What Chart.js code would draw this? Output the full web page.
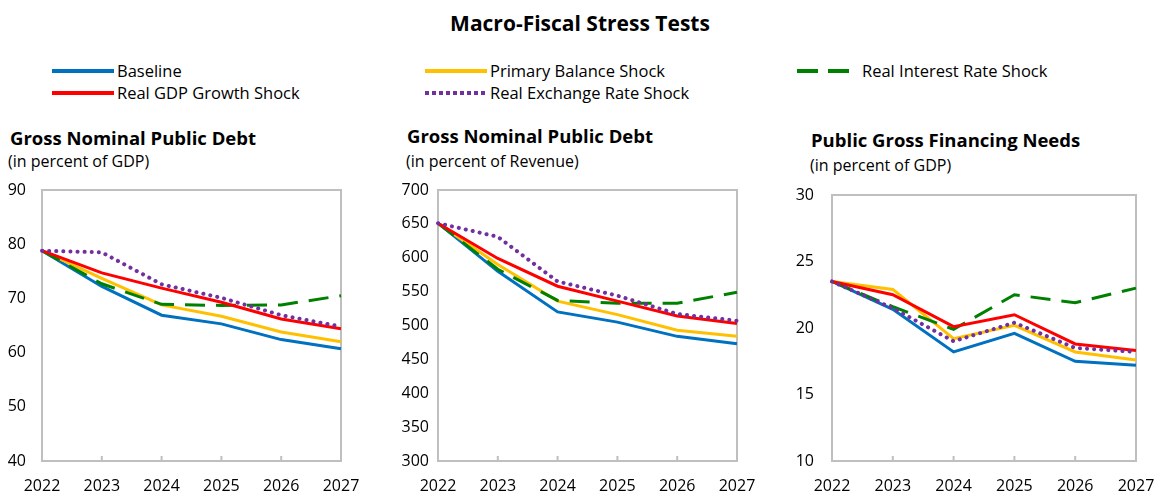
<!DOCTYPE html>
<html>
<head>
<meta charset="utf-8">
<script src="https://cdn.jsdelivr.net/npm/chart.js@4"></script>
<style>
  html, body { margin: 0; padding: 0; background: #fff; }
  body { width: 1156px; height: 496px; position: relative; overflow: hidden; font-family: "Open Sans", sans-serif; color: #000; }
  .abs { position: absolute; white-space: nowrap; }
  #title { left: 0; width: 1160px; top: 8px; text-align: center; font-weight: bold; font-size: 21px; line-height: 30px; }
  .leg { font-size: 16.5px; line-height: 22px; }
  .sw { position: absolute; height: 4px; }
  .head { font-weight: bold; font-size: 18.5px; line-height: 24px; }
  .sub { font-size: 16px; line-height: 22px; }
  canvas { position: absolute; }
</style>
</head>
<body>
<div id="title" class="abs">Macro-Fiscal Stress Tests</div>

<div class="sw" style="left:52px;top:69px;width:62px;background:#0070C0"></div>
<div class="abs leg" style="left:117px;top:60px">Baseline</div>
<div class="sw" style="left:425px;top:69px;width:62px;background:#FFC000"></div>
<div class="abs leg" style="left:490px;top:60px">Primary Balance Shock</div>
<div class="sw" style="left:797px;top:69px;width:52px;background:repeating-linear-gradient(to right,#008000 0 21px,transparent 21px 31px)"></div>
<div class="abs leg" style="left:862px;top:60px">Real Interest Rate Shock</div>
<div class="sw" style="left:52px;top:91px;width:62px;background:#FF0000"></div>
<div class="abs leg" style="left:117px;top:82px">Real GDP Growth Shock</div>
<div class="sw" style="left:425px;top:91px;width:62px;background:repeating-linear-gradient(to right,#7030A0 0 4px,transparent 4px 7px)"></div>
<div class="abs leg" style="left:490px;top:82px">Real Exchange Rate Shock</div>

<div class="abs head" style="left:10px;top:126px">Gross Nominal Public Debt</div>
<div class="abs sub" style="left:8px;top:150px">(in percent of GDP)</div>
<div class="abs head" style="left:407px;top:124px">Gross Nominal Public Debt</div>
<div class="abs sub" style="left:406px;top:150px">(in percent of Revenue)</div>
<div class="abs head" style="left:811px;top:128px">Public Gross Financing Needs</div>
<div class="abs sub" style="left:810px;top:154px">(in percent of GDP)</div>

<canvas id="c1" style="left:0;top:180px" width="372" height="316"></canvas>
<canvas id="c2" style="left:396px;top:180px" width="372" height="316"></canvas>
<canvas id="c3" style="left:790px;top:180px" width="366" height="316"></canvas>

<script>
const years = ['2022', '2023', '2024', '2025', '2026', '2027'];

// debt, percent of GDP
const debtGdpBaseline = [78.8, 72.2, 66.9, 65.3, 62.4, 60.7];
const debtGdpPrimary  = [78.8, 73.7, 68.8, 66.7, 63.8, 62.0];
const debtGdpGrowth   = [78.8, 74.7, 71.9, 69.3, 66.2, 64.4];
const debtGdpInterest = [78.8, 72.7, 68.9, 68.7, 68.8, 70.5];
const debtGdpExchange = [78.8, 78.5, 72.6, 70.1, 66.9, 64.8];

// debt, percent of revenue
const debtRevBaseline = [651, 580, 520, 505, 484, 473];
const debtRevPrimary  = [651, 590, 536, 516, 493, 484];
const debtRevGrowth   = [651, 599, 558, 536, 514, 503];
const debtRevInterest = [651, 583, 537, 533, 533, 549];
const debtRevExchange = [651, 631, 565, 544, 517, 507];

// gross financing needs, percent of GDP
const gfnBaseline = [23.5, 21.4, 18.2, 19.6, 17.5, 17.2];
const gfnPrimary  = [23.5, 22.9, 19.2, 20.2, 18.2, 17.6];
const gfnGrowth   = [23.5, 22.5, 20.1, 21.0, 18.8, 18.3];
const gfnInterest = [23.5, 21.6, 19.9, 22.5, 21.9, 23.0];
const gfnExchange = [23.5, 21.5, 19.0, 20.4, 18.5, 18.2];

const frameColor = '#BFBFBF';
const tickFont = { family: 'Open Sans', size: 16 };

// grey box round the plot plus small ticks on the bottom edge
const framePlugin = {
  id: 'frame',
  beforeDatasetsDraw(chart) {
    const a = chart.chartArea;
    const ctx = chart.ctx;
    const x = chart.scales.x;
    ctx.save();
    ctx.strokeStyle = frameColor;
    ctx.lineWidth = 2;
    ctx.strokeRect(a.left, a.top, a.right - a.left, a.bottom - a.top);
    ctx.beginPath();
    years.forEach((y, i) => {
      const px = x.getPixelForValue(i);
      ctx.moveTo(px, a.bottom);
      ctx.lineTo(px, a.bottom - 5);
    });
    ctx.stroke();
    ctx.restore();
  }
};

function series(base, prim, growth, interest, exch) {
  return [
    { label: 'Baseline', data: base, borderColor: '#0070C0', borderWidth: 3, order: 5 },
    { label: 'Primary Balance Shock', data: prim, borderColor: '#FFC000', borderWidth: 3, order: 4 },
    { label: 'Real Interest Rate Shock', data: interest, borderColor: '#008000', borderWidth: 3, borderDash: [20, 11], order: 3 },
    { label: 'Real GDP Growth Shock', data: growth, borderColor: '#FF0000', borderWidth: 3, order: 2 },
    { label: 'Real Exchange Rate Shock', data: exch, borderColor: '#7030A0', borderWidth: 4, borderDash: [0.1, 7], borderCapStyle: 'round', order: 1 }
  ];
}

function makeChart(id, datasets, min, max, step, padTop, padRight, labelGap) {
  return new Chart(document.getElementById(id), {
    type: 'line',
    data: { labels: years, datasets: datasets },
    options: {
      responsive: false,
      animation: false,
      events: [],
      elements: { point: { radius: 0 }, line: { tension: 0, fill: false } },
      layout: { padding: { top: padTop, right: padRight, left: 0, bottom: 0 } },
      plugins: { legend: { display: false }, tooltip: { enabled: false } },
      scales: {
        x: {
          offset: false,
          grid: { display: false, drawTicks: false },
          border: { display: false },
          ticks: { color: '#000', font: tickFont, padding: 16, maxRotation: 0, autoSkip: false },
          afterFit(s) { s.height = 35; s.paddingLeft = 0; s.paddingRight = 0; }
        },
        y: {
          min: min, max: max,
          grid: { display: false, drawTicks: false },
          border: { display: false },
          ticks: { stepSize: step, color: '#000', font: tickFont, padding: labelGap },
          afterFit(s) { s.width = 42; s.paddingTop = 0; s.paddingBottom = 0; }
        }
      }
    },
    plugins: [framePlugin]
  });
}

makeChart('c1', series(debtGdpBaseline, debtGdpPrimary, debtGdpGrowth, debtGdpInterest, debtGdpExchange), 40, 90, 10, 10, 31, 16);
makeChart('c2', series(debtRevBaseline, debtRevPrimary, debtRevGrowth, debtRevInterest, debtRevExchange), 300, 700, 50, 10, 31, 9);
makeChart('c3', series(gfnBaseline, gfnPrimary, gfnGrowth, gfnInterest, gfnExchange), 10, 30, 5, 15, 20, 18);
</script>
</body>
</html>
